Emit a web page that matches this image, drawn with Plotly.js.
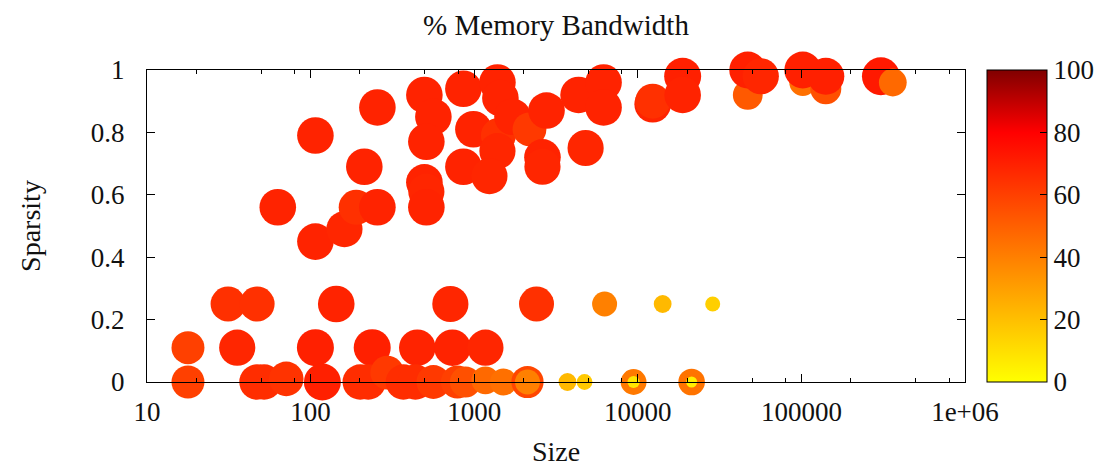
<!DOCTYPE html>
<html>
<head>
<meta charset="utf-8">
<script src="https://cdn.plot.ly/plotly-3.0.1.min.js"></script>
<style>
  html, body { margin: 0; padding: 0; background: #fff; }
  #chart { width: 1105px; height: 469px; }
</style>
</head>
<body>
<div id="chart"></div>
<script>
// Matrix size (log scale), sparsity fraction and achieved % of memory bandwidth.
// Points are listed in drawing order: later points sit on top.
const matrixSize = [
  107, 63, 107, 161, 190, 213, 256, 256, 496, 563, 510, 496, 510, 510,
  859, 989, 859, 1387, 1446, 1406, 1387, 1239, 1714, 2177, 2767, 2614, 2614,
  4345, 4797, 6177, 6177, 12330, 12330, 18800, 18800,
  47000, 47000, 56450, 102000, 102000, 141000, 141000, 306000, 362000,
  31.3, 47.1, 143.5, 715, 2404, 6266, 14190, 28700,
  17.8, 35.6, 107, 238, 449, 736, 1171,
  17.8, 47, 52, 71, 118, 201, 225, 294, 369, 437, 563, 789, 884, 1171, 1510,
  2117, 2117, 3717, 4725, 9424, 9424, 21330, 21330
];
const sparsity = [
  0.79, 0.56, 0.45, 0.49, 0.56, 0.69, 0.56, 0.88, 0.92, 0.85, 0.77, 0.64, 0.61, 0.56,
  0.94, 0.81, 0.69, 0.96, 0.91, 0.79, 0.74, 0.66, 0.85, 0.81, 0.87, 0.72, 0.69,
  0.92, 0.75, 0.96, 0.88, 0.89, 0.90, 0.98, 0.92,
  0.92, 1.0, 0.98, 0.96, 1.0, 0.94, 0.98, 0.98, 0.96,
  0.25, 0.25, 0.25, 0.25, 0.25, 0.25, 0.25, 0.25,
  0.11, 0.11, 0.11, 0.11, 0.11, 0.11, 0.11,
  0, 0, 0, 0.01, 0, 0, 0, 0.03, 0, 0, 0, 0, 0, 0.005, 0,
  0, 0, 0, 0, 0, 0, 0, 0
];
const bandwidthPct = [
  69, 69, 69, 68, 65, 69, 69, 69, 69, 69, 69, 69, 68, 69,
  69, 69, 69, 69, 69, 65, 68, 68, 69, 62, 69, 69, 68,
  69, 68, 69, 69, 69, 65, 70, 69,
  52, 70, 68, 45, 70, 55, 70, 72, 47,
  65, 65, 69, 68, 65, 40, 22, 15,
  60, 68, 70, 70, 69, 69, 68,
  60, 66, 66, 64, 70, 66, 66, 62, 66, 66, 62, 60, 55, 47, 45,
  58, 40, 22, 17, 42, 8, 44, 5
];

// Axis ticks
const majorTicks = [10, 100, 1000, 10000, 100000, 1000000];
const majorLabels = ['10', '100', '1000', '10000', '100000', '1e+06'];
const minorTicks = [20, 50, 80, 200, 500, 800, 2000, 5000, 8000, 20000, 50000, 80000,
                    200000, 500000, 800000];
const colorTicks = [0, 20, 40, 60, 80, 100];

// point diameter grows with the bandwidth value
const markerDiameter = bandwidthPct.map(v => 9 + 0.4 * v);

const palette = [[0, '#ffff00'], [0.8, '#ff0000'], [1, '#800000']];
const FONT = 'Liberation Serif, Times New Roman, serif';

// colour box geometry (paper units of the 818 px wide plot area)
const CB_X = 1.0269;
const CB_TICK = 7 / 818;

const trace = {
  type: 'scatter',
  mode: 'markers',
  x: matrixSize,
  y: sparsity,
  cliponaxis: false,
  hoverinfo: 'x+y',
  marker: {
    color: bandwidthPct,
    colorscale: palette,
    cmin: 0,
    cmax: 100,
    size: markerDiameter,
    sizemode: 'diameter',
    opacity: 1,
    line: { width: 0 },
    showscale: true,
    colorbar: {
      x: CB_X, xanchor: 'left', xref: 'paper', xpad: 0,
      y: 0.5, yanchor: 'middle', yref: 'paper', ypad: 0,
      len: 312, lenmode: 'pixels',
      thickness: 60, thicknessmode: 'pixels',
      outlinewidth: 1, outlinecolor: '#000',
      tickmode: 'array', tickvals: colorTicks,
      ticks: 'inside', ticklen: 7, tickcolor: '#000', tickwidth: 1,
      tickfont: { family: FONT, size: 27, color: '#111' },
      ticklabelpad: 6
    }
  }
};

// tick marks on the left edge of the colour box (the colorbar draws the right ones)
const cbLeftTicks = colorTicks.slice(1, -1).map(v => ({
  type: 'line', xref: 'paper', yref: 'paper',
  x0: CB_X, x1: CB_X + CB_TICK, y0: v / 100, y1: v / 100,
  line: { color: '#000', width: 1 }
}));

const layout = {
  width: 1105,
  height: 469,
  margin: { l: 147, r: 140, t: 70, b: 87, pad: 0, autoexpand: false },
  paper_bgcolor: '#fff',
  plot_bgcolor: '#fff',
  font: { family: FONT, size: 27, color: '#111' },
  showlegend: false,
  shapes: cbLeftTicks,
  title: {
    text: '% Memory Bandwidth',
    font: { family: FONT, size: 29, color: '#111' },
    x: 0.5, xref: 'paper', xanchor: 'center',
    y: 0.947, yref: 'container', yanchor: 'middle'
  },
  xaxis: {
    type: 'log',
    range: [1, 6],
    showline: true, linecolor: '#000', linewidth: 1,
    mirror: 'ticks',
    showgrid: false, zeroline: false,
    tickmode: 'array', tickvals: majorTicks, ticktext: majorLabels,
    ticks: 'inside', ticklen: 8, tickcolor: '#000', tickwidth: 1,
    ticklabelstandoff: 6,
    minor: {
      tickmode: 'array', tickvals: minorTicks,
      ticks: 'inside', ticklen: 4, tickcolor: '#000', tickwidth: 1,
      showgrid: false
    },
    title: { text: 'Size', standoff: 14, font: { family: FONT, size: 28, color: '#111' } },
    automargin: false
  },
  yaxis: {
    range: [0, 1],
    showline: true, linecolor: '#000', linewidth: 1,
    mirror: 'ticks',
    showgrid: false, zeroline: false,
    tickmode: 'array', tickvals: [0, 0.2, 0.4, 0.6, 0.8, 1],
    ticktext: ['0', '0.2', '0.4', '0.6', '0.8', '1'],
    ticks: 'inside', ticklen: 8, tickcolor: '#000', tickwidth: 1,
    ticklabelstandoff: 16,
    title: { text: 'Sparsity', standoff: 42, font: { family: FONT, size: 28, color: '#111' } },
    automargin: false
  }
};

Plotly.newPlot('chart', [trace], layout, { staticPlot: true, displayModeBar: false });
</script>
</body>
</html>
